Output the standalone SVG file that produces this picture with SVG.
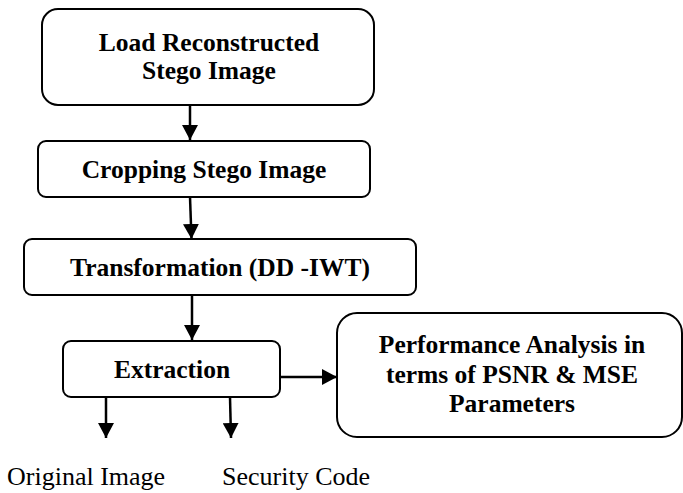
<svg xmlns="http://www.w3.org/2000/svg" width="683" height="493" viewBox="0 0 683 493">
<defs>
<marker id="ah" viewBox="0 0 15 16" refX="15" refY="8" markerWidth="15" markerHeight="16" markerUnits="userSpaceOnUse" orient="auto">
<path d="M0,0 L15,8 L0,16 Z" fill="#000"/>
</marker>
<style>
.box{fill:#fff;stroke:#000;stroke-width:2}
.t{font-family:'Times New Roman','Liberation Serif',Times,serif;font-weight:bold;font-size:25.5px;fill:#000;text-anchor:middle}
.l{font-family:'Times New Roman','Liberation Serif',Times,serif;font-size:26px;fill:#000}
.c{stroke:#000;stroke-width:2.5;fill:none;marker-end:url(#ah)}
</style>
</defs>
<rect width="683" height="493" fill="#fff"/>
<g id="connectors">
<line class="c" x1="190" y1="105" x2="190" y2="140"/>
<line class="c" x1="190" y1="197" x2="191.5" y2="239"/>
<line class="c" x1="192" y1="295" x2="192" y2="340"/>
<line class="c" x1="280" y1="377" x2="337" y2="377"/>
<line class="c" x1="106" y1="397" x2="106" y2="438"/>
<line class="c" x1="230" y1="397" x2="231" y2="438"/>
</g>
<g id="load">
<rect class="box" x="42" y="9" width="332" height="96" rx="16"/>
<text class="t" x="209" y="51">Load Reconstructed</text>
<text class="t" x="209" y="79">Stego Image</text>
</g>
<g id="crop">
<rect class="box" x="38" y="141" width="332" height="56" rx="8"/>
<text class="t" x="204" y="178">Cropping Stego Image</text>
</g>
<g id="transform">
<rect class="box" x="24" y="239" width="392" height="56" rx="8"/>
<text class="t" x="220" y="276">Transformation (DD -IWT)</text>
</g>
<g id="extraction">
<rect class="box" x="63" y="341" width="217" height="56" rx="8"/>
<text class="t" x="172" y="378">Extraction</text>
</g>
<g id="performance">
<rect class="box" x="337" y="313" width="345" height="124" rx="20"/>
<text class="t" x="512" y="353">Performance Analysis in</text>
<text class="t" x="512" y="383">terms of PSNR &amp; MSE</text>
<text class="t" x="512" y="412">Parameters</text>
</g>
<g id="original">
<text class="l" x="7" y="485">Original Image</text>
</g>
<g id="security">
<text class="l" x="222" y="485">Security Code</text>
</g>
</svg>
